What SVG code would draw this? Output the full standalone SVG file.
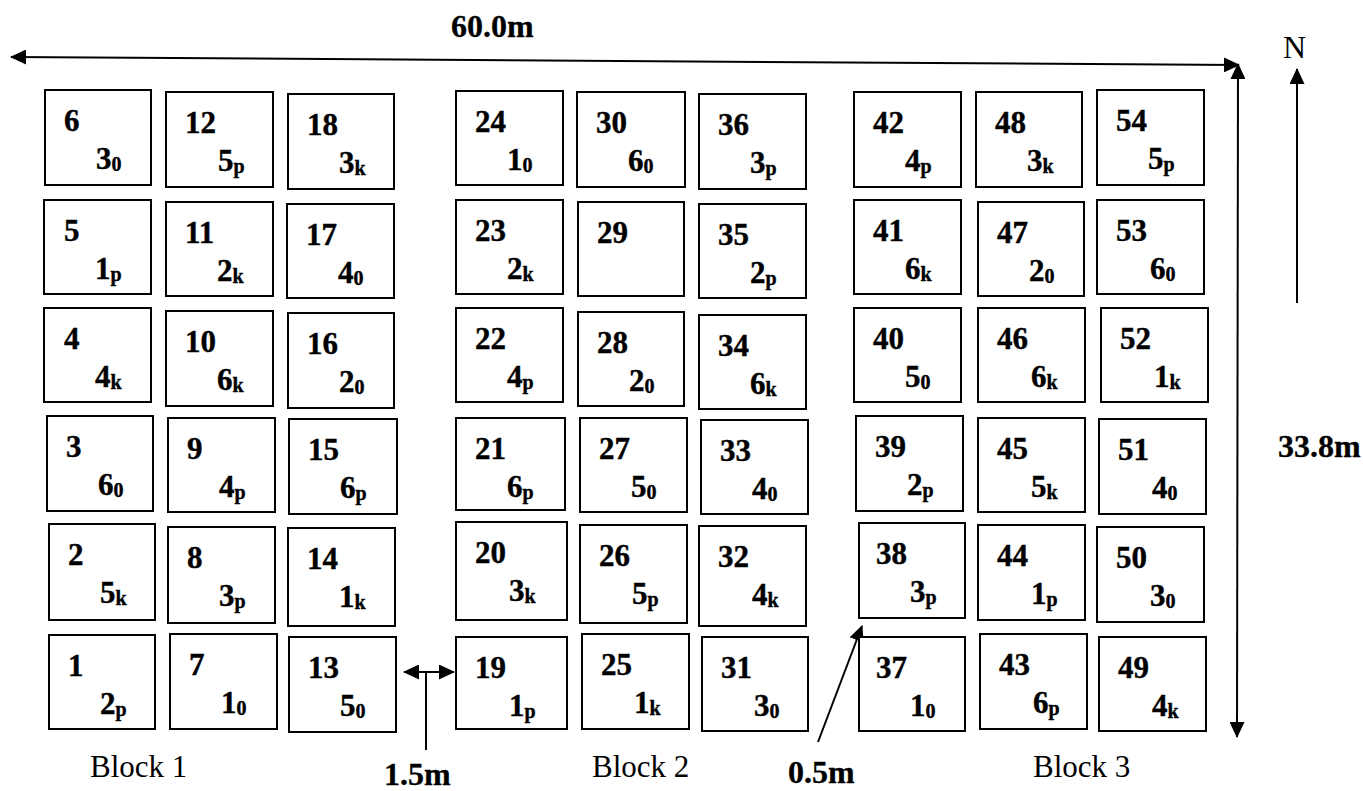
<svg xmlns="http://www.w3.org/2000/svg" width="1363" height="791" viewBox="0 0 1363 791">
<style>
rect{fill:#fff;stroke:#000;stroke-width:2}
.n{font-family:"Liberation Serif","Times New Roman",serif;font-weight:bold;font-size:31px;fill:#000;stroke:#000;stroke-width:0.4}
.s{font-size:20px}
.d{font-family:"Liberation Serif","Times New Roman",serif;font-weight:bold;font-size:32px;fill:#000;stroke:#000;stroke-width:0.3}
.r{font-family:"Liberation Serif","Times New Roman",serif;font-size:32px;fill:#000}
.b{font-family:"Liberation Serif","Times New Roman",serif;font-size:31px;fill:#000}
.c{stroke:#000;stroke-width:2;fill:none}
</style>
<defs>
<marker id="ah" viewBox="0 0 16 15" refX="15" refY="7.5" markerWidth="16" markerHeight="15" markerUnits="userSpaceOnUse" orient="auto-start-reverse"><path d="M0,0 L16,7.5 L0,15 z" fill="#000"/></marker>
</defs>
<rect x="0" y="0" width="1363" height="791" style="stroke:none"/>
<g id="connectors">
<line class="c" x1="11" y1="57" x2="1239" y2="65" marker-start="url(#ah)" marker-end="url(#ah)"/>
<line class="c" x1="1238" y1="64" x2="1237" y2="737" marker-start="url(#ah)" marker-end="url(#ah)"/>
<line class="c" x1="1297" y1="303" x2="1297" y2="69" marker-end="url(#ah)"/>
<line class="c" x1="404" y1="672" x2="454" y2="672" marker-start="url(#ah)" marker-end="url(#ah)"/>
<line class="c" x1="426" y1="672" x2="426" y2="750"/>
<line class="c" x1="818" y1="742" x2="862" y2="626" marker-end="url(#ah)"/>
</g>
<g id="labels">
<text class="d" x="451" y="37">60.0m</text>
<text class="r" x="1283" y="58">N</text>
<text class="d" x="1278" y="457">33.8m</text>
<text class="d" x="384" y="785">1.5m</text>
<text class="d" x="788" y="783">0.5m</text>
<text class="b" x="90" y="777">Block 1</text>
<text class="b" x="592" y="777">Block 2</text>
<text class="b" x="1033" y="777">Block 3</text>
</g>
<g id="p6"><rect x="45" y="90" width="106" height="95"/><text class="n" x="64" y="131">6</text><text class="n" x="96" y="169">3<tspan class="s" dy="2">0</tspan></text></g>
<g id="p5"><rect x="44" y="200" width="107" height="94"/><text class="n" x="64" y="241">5</text><text class="n" x="95" y="279">1<tspan class="s" dy="2">p</tspan></text></g>
<g id="p4"><rect x="44" y="308" width="107" height="94"/><text class="n" x="64" y="349">4</text><text class="n" x="95" y="387">4<tspan class="s" dy="2">k</tspan></text></g>
<g id="p3"><rect x="47" y="416" width="106" height="95"/><text class="n" x="66" y="457">3</text><text class="n" x="98" y="495">6<tspan class="s" dy="2">0</tspan></text></g>
<g id="p2"><rect x="49" y="524" width="106" height="96"/><text class="n" x="68" y="565">2</text><text class="n" x="100" y="603">5<tspan class="s" dy="2">k</tspan></text></g>
<g id="p1"><rect x="49" y="635" width="106" height="94"/><text class="n" x="68" y="676">1</text><text class="n" x="100" y="714">2<tspan class="s" dy="2">p</tspan></text></g>
<g id="p12"><rect x="166" y="92" width="107" height="95"/><text class="n" x="185" y="133">12</text><text class="n" x="218" y="171">5<tspan class="s" dy="2">p</tspan></text></g>
<g id="p11"><rect x="166" y="202" width="107" height="94"/><text class="n" x="185" y="243">11</text><text class="n" x="217" y="281">2<tspan class="s" dy="2">k</tspan></text></g>
<g id="p10"><rect x="166" y="311" width="107" height="95"/><text class="n" x="185" y="352">10</text><text class="n" x="217" y="390">6<tspan class="s" dy="2">k</tspan></text></g>
<g id="p9"><rect x="168" y="418" width="107" height="94"/><text class="n" x="187" y="459">9</text><text class="n" x="219" y="497">4<tspan class="s" dy="2">p</tspan></text></g>
<g id="p8"><rect x="168" y="527" width="107" height="96"/><text class="n" x="187" y="568">8</text><text class="n" x="219" y="606">3<tspan class="s" dy="2">p</tspan></text></g>
<g id="p7"><rect x="170" y="634" width="107" height="95"/><text class="n" x="189" y="675">7</text><text class="n" x="221" y="713">1<tspan class="s" dy="2">0</tspan></text></g>
<g id="p18"><rect x="288" y="94" width="106" height="95"/><text class="n" x="307" y="135">18</text><text class="n" x="339" y="173">3<tspan class="s" dy="2">k</tspan></text></g>
<g id="p17"><rect x="287" y="204" width="107" height="94"/><text class="n" x="306" y="245">17</text><text class="n" x="338" y="283">4<tspan class="s" dy="2">0</tspan></text></g>
<g id="p16"><rect x="288" y="313" width="106" height="95"/><text class="n" x="307" y="354">16</text><text class="n" x="339" y="392">2<tspan class="s" dy="2">0</tspan></text></g>
<g id="p15"><rect x="289" y="419" width="108" height="95"/><text class="n" x="308" y="460">15</text><text class="n" x="340" y="498">6<tspan class="s" dy="2">p</tspan></text></g>
<g id="p14"><rect x="288" y="528" width="107" height="98"/><text class="n" x="307" y="569">14</text><text class="n" x="339" y="607">1<tspan class="s" dy="2">k</tspan></text></g>
<g id="p13"><rect x="289" y="637" width="107" height="95"/><text class="n" x="308" y="678">13</text><text class="n" x="340" y="716">5<tspan class="s" dy="2">0</tspan></text></g>
<g id="p24"><rect x="456" y="91" width="107" height="94"/><text class="n" x="475" y="132">24</text><text class="n" x="507" y="170">1<tspan class="s" dy="2">0</tspan></text></g>
<g id="p23"><rect x="456" y="200" width="107" height="94"/><text class="n" x="475" y="241">23</text><text class="n" x="507" y="279">2<tspan class="s" dy="2">k</tspan></text></g>
<g id="p22"><rect x="456" y="308" width="107" height="94"/><text class="n" x="475" y="349">22</text><text class="n" x="507" y="387">4<tspan class="s" dy="2">p</tspan></text></g>
<g id="p21"><rect x="456" y="418" width="109" height="92"/><text class="n" x="475" y="459">21</text><text class="n" x="507" y="497">6<tspan class="s" dy="2">p</tspan></text></g>
<g id="p20"><rect x="456" y="522" width="111" height="98"/><text class="n" x="475" y="563">20</text><text class="n" x="509" y="601">3<tspan class="s" dy="2">k</tspan></text></g>
<g id="p19"><rect x="456" y="637" width="111" height="92"/><text class="n" x="475" y="678">19</text><text class="n" x="509" y="716">1<tspan class="s" dy="2">p</tspan></text></g>
<g id="p30"><rect x="577" y="92" width="108" height="95"/><text class="n" x="596" y="133">30</text><text class="n" x="628" y="171">6<tspan class="s" dy="2">0</tspan></text></g>
<g id="p29"><rect x="578" y="202" width="106" height="94"/><text class="n" x="597" y="243">29</text></g>
<g id="p28"><rect x="578" y="312" width="106" height="94"/><text class="n" x="597" y="353">28</text><text class="n" x="629" y="391">2<tspan class="s" dy="2">0</tspan></text></g>
<g id="p27"><rect x="580" y="418" width="107" height="94"/><text class="n" x="599" y="459">27</text><text class="n" x="631" y="497">5<tspan class="s" dy="2">0</tspan></text></g>
<g id="p26"><rect x="580" y="525" width="107" height="98"/><text class="n" x="599" y="566">26</text><text class="n" x="632" y="604">5<tspan class="s" dy="2">p</tspan></text></g>
<g id="p25"><rect x="582" y="634" width="107" height="95"/><text class="n" x="601" y="675">25</text><text class="n" x="634" y="713">1<tspan class="s" dy="2">k</tspan></text></g>
<g id="p36"><rect x="699" y="94" width="107" height="95"/><text class="n" x="718" y="135">36</text><text class="n" x="750" y="173">3<tspan class="s" dy="2">p</tspan></text></g>
<g id="p35"><rect x="699" y="204" width="107" height="94"/><text class="n" x="718" y="245">35</text><text class="n" x="750" y="283">2<tspan class="s" dy="2">p</tspan></text></g>
<g id="p34"><rect x="699" y="315" width="107" height="94"/><text class="n" x="718" y="356">34</text><text class="n" x="750" y="394">6<tspan class="s" dy="2">k</tspan></text></g>
<g id="p33"><rect x="701" y="420" width="107" height="94"/><text class="n" x="720" y="461">33</text><text class="n" x="752" y="499">4<tspan class="s" dy="2">0</tspan></text></g>
<g id="p32"><rect x="699" y="526" width="107" height="100"/><text class="n" x="718" y="567">32</text><text class="n" x="752" y="605">4<tspan class="s" dy="2">k</tspan></text></g>
<g id="p31"><rect x="702" y="637" width="106" height="94"/><text class="n" x="721" y="678">31</text><text class="n" x="754" y="716">3<tspan class="s" dy="2">0</tspan></text></g>
<g id="p42"><rect x="854" y="92" width="107" height="95"/><text class="n" x="873" y="133">42</text><text class="n" x="905" y="171">4<tspan class="s" dy="2">p</tspan></text></g>
<g id="p41"><rect x="854" y="200" width="107" height="94"/><text class="n" x="873" y="241">41</text><text class="n" x="905" y="279">6<tspan class="s" dy="2">k</tspan></text></g>
<g id="p40"><rect x="854" y="308" width="107" height="94"/><text class="n" x="873" y="349">40</text><text class="n" x="905" y="387">5<tspan class="s" dy="2">0</tspan></text></g>
<g id="p39"><rect x="856" y="416" width="107" height="95"/><text class="n" x="875" y="457">39</text><text class="n" x="907" y="495">2<tspan class="s" dy="2">p</tspan></text></g>
<g id="p38"><rect x="859" y="523" width="106" height="95"/><text class="n" x="876" y="564">38</text><text class="n" x="910" y="602">3<tspan class="s" dy="2">p</tspan></text></g>
<g id="p37"><rect x="859" y="637" width="106" height="94"/><text class="n" x="876" y="678">37</text><text class="n" x="910" y="716">1<tspan class="s" dy="2">0</tspan></text></g>
<g id="p48"><rect x="976" y="92" width="106" height="95"/><text class="n" x="995" y="133">48</text><text class="n" x="1027" y="171">3<tspan class="s" dy="2">k</tspan></text></g>
<g id="p47"><rect x="978" y="202" width="106" height="94"/><text class="n" x="997" y="243">47</text><text class="n" x="1029" y="281">2<tspan class="s" dy="2">0</tspan></text></g>
<g id="p46"><rect x="978" y="308" width="107" height="94"/><text class="n" x="997" y="349">46</text><text class="n" x="1031" y="387">6<tspan class="s" dy="2">k</tspan></text></g>
<g id="p45"><rect x="978" y="418" width="107" height="94"/><text class="n" x="997" y="459">45</text><text class="n" x="1031" y="497">5<tspan class="s" dy="2">k</tspan></text></g>
<g id="p44"><rect x="978" y="525" width="107" height="95"/><text class="n" x="997" y="566">44</text><text class="n" x="1031" y="604">1<tspan class="s" dy="2">p</tspan></text></g>
<g id="p43"><rect x="980" y="634" width="107" height="95"/><text class="n" x="999" y="675">43</text><text class="n" x="1033" y="713">6<tspan class="s" dy="2">p</tspan></text></g>
<g id="p54"><rect x="1097" y="90" width="107" height="95"/><text class="n" x="1116" y="131">54</text><text class="n" x="1148" y="169">5<tspan class="s" dy="2">p</tspan></text></g>
<g id="p53"><rect x="1097" y="200" width="107" height="94"/><text class="n" x="1116" y="241">53</text><text class="n" x="1150" y="279">6<tspan class="s" dy="2">0</tspan></text></g>
<g id="p52"><rect x="1101" y="308" width="107" height="94"/><text class="n" x="1120" y="349">52</text><text class="n" x="1154" y="387">1<tspan class="s" dy="2">k</tspan></text></g>
<g id="p51"><rect x="1099" y="419" width="107" height="95"/><text class="n" x="1118" y="460">51</text><text class="n" x="1152" y="498">4<tspan class="s" dy="2">0</tspan></text></g>
<g id="p50"><rect x="1097" y="527" width="107" height="95"/><text class="n" x="1116" y="568">50</text><text class="n" x="1150" y="606">3<tspan class="s" dy="2">0</tspan></text></g>
<g id="p49"><rect x="1099" y="637" width="107" height="94"/><text class="n" x="1118" y="678">49</text><text class="n" x="1152" y="716">4<tspan class="s" dy="2">k</tspan></text></g>
</svg>
